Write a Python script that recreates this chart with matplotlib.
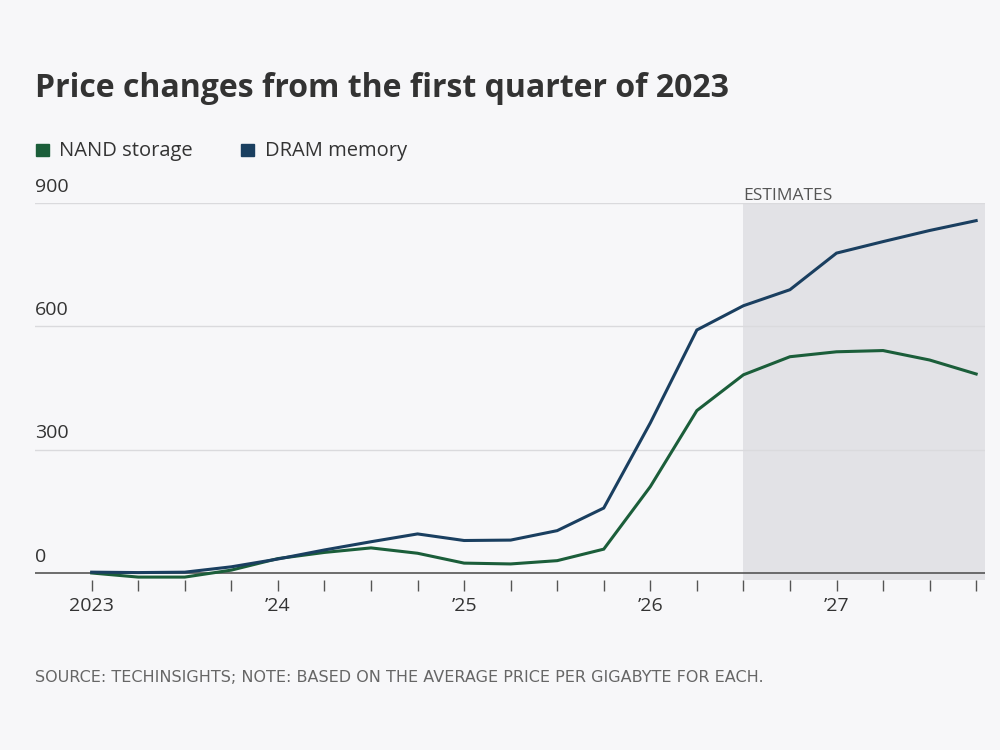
import matplotlib.pyplot as plt
import matplotlib.transforms as mtransforms

# quarterly index values, 2023 Q1 .. 2027 Q4
quarters = [2023 + q / 4 for q in range(20)]
nand = [0, -10, -10, 7, 35, 50, 61, 48, 24, 22, 30, 58, 210, 395, 482, 526, 538, 541, 518, 484]
dram = [2, 1, 2, 15, 34, 56, 76, 95, 79, 80, 103, 158, 365, 591, 650, 689, 778, 806, 833, 857]
tick_labels = ['2023', '', '', '', '\u201924', '', '', '', '\u201925', '', '', '',
               '\u201926', '', '', '', '\u201927', '', '', '']
y_grid = [300, 600, 900]
estimate_start = 2026.5

bg = '#f7f7f9'
green = '#1b5e3a'
blue = '#1a3f60'
font = ['Open Sans', 'DejaVu Sans']

fig = plt.figure(figsize=(10, 7.5), dpi=100, facecolor=bg)
ax = fig.add_axes([0.035, 0.2267, 0.95, 0.5027])
ax.set_facecolor(bg)

ax.set_xlim(2023 - 0.3045, 2027.7975)
ax.set_ylim(-17, 900)

# shaded estimates area
ax.axvspan(estimate_start, ax.get_xlim()[1], color='#e2e2e6', zorder=0, lw=0)
ax.text(estimate_start, 898, 'ESTIMATES', ha='left', va='bottom', fontsize=12.5,
        color='#555555', family=font)

for v in y_grid:
    ax.axhline(v, color='#dadadd', lw=1, zorder=1)
ax.axhline(0, color='#555555', lw=1.2, zorder=2)

trans = mtransforms.blended_transform_factory(ax.transAxes, ax.transData)
for v in [0] + y_grid:
    ax.text(0, v + 18, str(v), transform=trans, ha='left', va='bottom',
            fontsize=14, color='#333333', family=font)

ax.plot(quarters, nand, color=green, lw=2.2, zorder=3, solid_joinstyle='miter')
ax.plot(quarters, dram, color=blue, lw=2.2, zorder=3, solid_joinstyle='miter')

for s in ax.spines.values():
    s.set_visible(False)
ax.set_yticks([])
ax.set_xticks(quarters)
ax.set_xticklabels(tick_labels, fontsize=14, color='#333333', family=font)
ax.tick_params(axis='x', length=8, width=1, color='#555555', pad=4)

fig.text(0.035, 0.8707, 'Price changes from the first quarter of 2023', ha='left',
         va='baseline', fontsize=23, fontweight='bold', color='#333333', family=font)

# legend
fig.patches.append(plt.Rectangle((0.036, 0.792), 0.013, 0.016, color=green,
                                 transform=fig.transFigure, figure=fig))
fig.text(0.059, 0.799, 'NAND storage', ha='left', va='center', fontsize=14.5,
         color='#333333', family=font)
fig.patches.append(plt.Rectangle((0.241, 0.792), 0.013, 0.016, color=blue,
                                 transform=fig.transFigure, figure=fig))
fig.text(0.265, 0.799, 'DRAM memory', ha='left', va='center', fontsize=14.5,
         color='#333333', family=font)

fig.text(0.035, 0.096, 'SOURCE: TECHINSIGHTS; NOTE: BASED ON THE AVERAGE PRICE PER GIGABYTE FOR EACH.',
         ha='left', va='center', fontsize=11.5, color='#666666',
         family=['Liberation Sans Narrow', 'DejaVu Sans'])

fig.savefig('out.png', dpi=100, facecolor=bg)
